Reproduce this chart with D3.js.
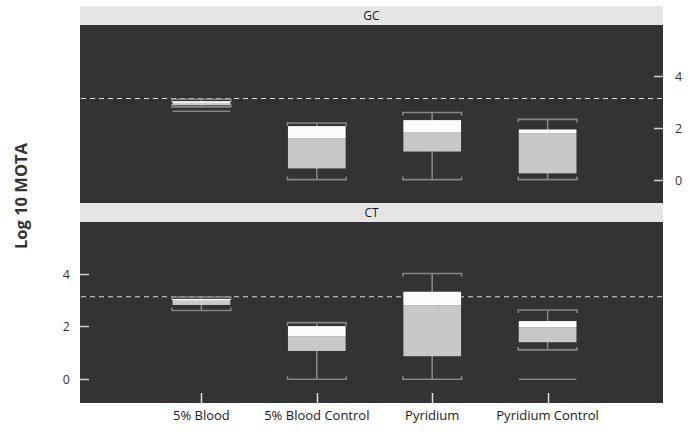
<!DOCTYPE html>
<html><head><meta charset="utf-8">
<script src="https://cdn.jsdelivr.net/npm/d3@7"></script>
<style>body{margin:0;background:#fff;} svg{display:block;font-family:"Open Sans",sans-serif;}</style>
</head><body><div id="chart"></div>
<script>
const categories = ["5% Blood", "5% Blood Control", "Pyridium", "Pyridium Control"];
const panels = ["GC", "CT"];
const yTicks = [0, 2, 4];
const threshold = 3.12;

const gcLow  = [2.80, 0.00, 0.00, 0.00];
const gcQ1   = [2.86, 0.43, 1.08, 0.24];
const gcMed  = [2.95, 1.60, 1.83, 1.79];
const gcQ3   = [3.02, 2.06, 2.29, 1.93];
const gcHigh = [3.09, 2.18, 2.58, 2.32];
const gcOutliers = [[2.63], [], [], []];

const ctLow  = [2.60, 0.00, 0.00, 1.11];
const ctQ1   = [2.81, 1.07, 0.87, 1.40];
const ctMed  = [2.97, 1.63, 2.79, 1.97];
const ctQ3   = [3.04, 2.01, 3.31, 2.20];
const ctHigh = [3.11, 2.14, 4.00, 2.62];
const ctOutliers = [[], [], [], [0.0]];

const panelData = {
  GC: categories.map((c,i)=>({cat:c, low:gcLow[i], q1:gcQ1[i], med:gcMed[i], q3:gcQ3[i], high:gcHigh[i], out:gcOutliers[i]})),
  CT: categories.map((c,i)=>({cat:c, low:ctLow[i], q1:ctQ1[i], med:ctMed[i], q3:ctQ3[i], high:ctHigh[i], out:ctOutliers[i]}))
};

const W = 696, H = 439;
const svg = d3.select("#chart").append("svg").attr("width", W).attr("height", H);

const left = 80, right = 663;
const layout = {
  GC: {stripTop: 6, top: 25, bottom: 203, axis: "right"},
  CT: {stripTop: 203, top: 222, bottom: 403, axis: "left"}
};
const x = d3.scalePoint().domain(categories).range([left + 6, right]).padding(1);
const step = x.step();
const boxW = step * 0.5;
const capTick = 3;
const whiskerColor = "#858585";

panels.forEach(p => {
  const L = layout[p];
  const y = d3.scaleLinear().domain([-0.9, 5.95]).range([L.bottom, L.top]);
  const g = svg.append("g");
  g.append("rect").attr("x", left).attr("y", L.stripTop).attr("width", right-left).attr("height", L.top - L.stripTop).attr("fill", "#e5e5e5");
  g.append("text").attr("x", (left+right)/2).attr("y", (L.stripTop + L.top)/2).attr("dy", "0.35em")
    .attr("text-anchor", "middle").attr("font-size", 12).attr("fill", "#1a1a1a").text(p);
  g.append("rect").attr("x", left).attr("y", L.top).attr("width", right-left).attr("height", L.bottom - L.top).attr("fill", "#333333");
  const tk = g.append("g");
  yTicks.forEach(t => {
    const yy = Math.round(y(t)) + 0.5;
    if (L.axis === "left") {
      tk.append("line").attr("x1", left).attr("x2", left+9).attr("y1", yy).attr("y2", yy).attr("stroke", "#cfcfcf").attr("stroke-width", 1.5);
      tk.append("text").attr("x", left-10).attr("y", yy).attr("dy", "0.35em").attr("text-anchor", "end").attr("font-size", 12.5).attr("fill", "#333").text(t);
    } else {
      tk.append("line").attr("x1", right-9).attr("x2", right).attr("y1", yy).attr("y2", yy).attr("stroke", "#cfcfcf").attr("stroke-width", 1.5);
      tk.append("text").attr("x", right+12).attr("y", yy).attr("dy", "0.35em").attr("text-anchor", "start").attr("font-size", 12.5).attr("fill", "#333").text(t);
    }
  });
  g.append("line").attr("x1", left).attr("x2", right).attr("y1", y(threshold)).attr("y2", y(threshold))
    .attr("stroke", "#dcdcdc").attr("stroke-width", 1).attr("stroke-dasharray", "5,4").attr("stroke-dashoffset", -1);
  panelData[p].forEach(d => {
    const cx = x(d.cat);
    const bx = cx - boxW/2;
    g.append("line").attr("x1", cx).attr("x2", cx).attr("y1", y(d.low)).attr("y2", y(d.high))
      .attr("stroke", whiskerColor).attr("stroke-width", 1.6);
    const ch = y(d.high), cl = y(d.low);
    g.append("path").attr("d", `M${bx-0.5},${ch+capTick}V${ch}H${bx+boxW+0.5}V${ch+capTick}`)
      .attr("fill", "none").attr("stroke", whiskerColor).attr("stroke-width", 1.6);
    g.append("path").attr("d", `M${bx-0.5},${cl-capTick}V${cl}H${bx+boxW+0.5}V${cl-capTick}`)
      .attr("fill", "none").attr("stroke", whiskerColor).attr("stroke-width", 1.6);
    g.append("rect").attr("x", bx).attr("y", y(d.med)).attr("width", boxW).attr("height", y(d.q1)-y(d.med)).attr("fill", "#c8c8c8");
    g.append("rect").attr("x", bx).attr("y", y(d.q3)).attr("width", boxW).attr("height", y(d.med)-y(d.q3)).attr("fill", "#fcfcfc");
    d.out.forEach(o => {
      g.append("line").attr("x1", bx).attr("x2", bx+boxW).attr("y1", y(o)).attr("y2", y(o))
        .attr("stroke", whiskerColor).attr("stroke-width", 1.6);
    });
  });
});

const xb = layout.CT.bottom;
categories.forEach(c => {
  const xx = Math.round(x(c)) + 0.5;
  svg.append("line").attr("x1", xx).attr("x2", xx).attr("y1", xb-10).attr("y2", xb).attr("stroke", "#e0e0e0").attr("stroke-width", 1.5);
  svg.append("text").attr("x", x(c)).attr("y", 420).attr("text-anchor", "middle").attr("font-size", 13).attr("fill", "#1a1a1a").text(c);
});

svg.append("text").attr("transform", `translate(27,${(layout.GC.top+layout.CT.bottom)/2 - 18}) rotate(-90)`)
  .attr("text-anchor", "middle").attr("font-size", 16.5).attr("font-weight", "bold").attr("fill", "#333").text("Log 10 MOTA");
</script>
</body></html>
